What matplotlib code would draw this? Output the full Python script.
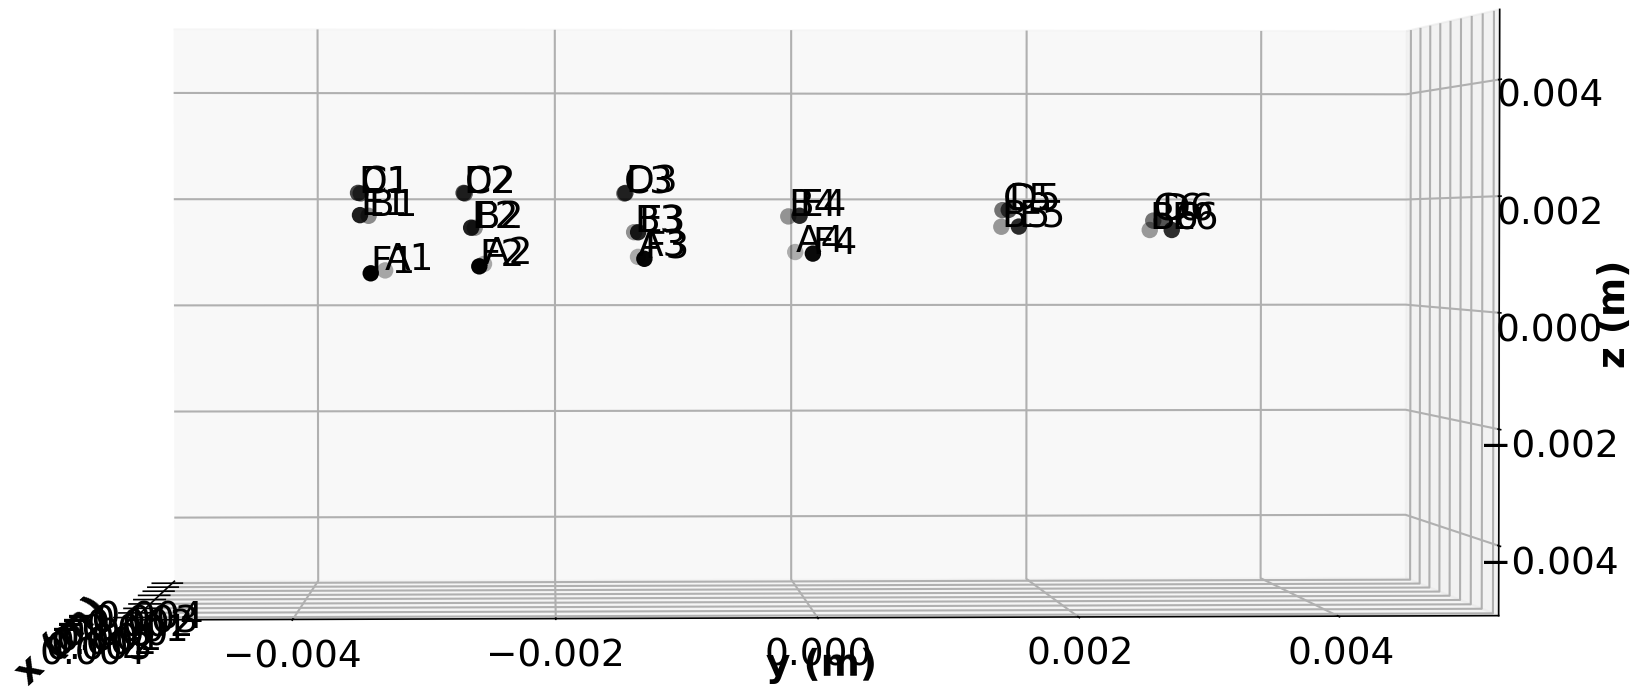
import matplotlib
matplotlib.use("Agg")
import matplotlib.pyplot as plt

plt.rcParams["grid.linewidth"] = 1.0

labels = ["A1", "A2", "A3", "A4",
          "B1", "B2", "B3", "B4", "B5", "B6",
          "C1", "C2", "C3", "C5", "C6",
          "D1", "D2", "D3", "D5", "D6",
          "E1", "E2", "E3", "E4", "E5", "E6",
          "F1", "F2", "F3", "F4"]
x = [-0.003, -0.003, -0.003, -0.003,
     -0.002, -0.002, -0.002, -0.002, -0.002, -0.002,
     -0.0006, -0.0006, -0.0006, -0.0006, -0.0006,
     0.0006, 0.0006, 0.0006, 0.0006, 0.0006,
     0.002, 0.002, 0.002, 0.002, 0.002, 0.002,
     0.003, 0.003, 0.003, 0.003]
y = [-0.00341, -0.00259, -0.00131, 0.0,
     -0.00353, -0.00266, -0.00135, -0.00008, 0.00168, 0.00291,
     -0.00357, -0.00273, -0.00144, 0.00163, 0.00286,
     -0.00357, -0.00273, -0.00144, 0.00163, 0.00286,
     -0.00353, -0.00266, -0.00135, -0.00008, 0.00165, 0.00286,
     -0.00343, -0.00259, -0.00131, 0.0]
z = [0.00067, 0.00079, 0.00092, 0.00101,
     0.00168, 0.00146, 0.00138, 0.00167, 0.00148, 0.00142,
     0.00208, 0.00208, 0.00208, 0.00178, 0.00159,
     0.00208, 0.00208, 0.00208, 0.00178, 0.00159,
     0.00168, 0.00146, 0.00138, 0.00167, 0.00148, 0.00142,
     0.00067, 0.00079, 0.00092, 0.00101]

x_ticks = [-0.004, -0.003, -0.002, -0.001, 0.0, 0.001, 0.002, 0.003, 0.004]
yz_ticks = [-0.004, -0.002, 0.0, 0.002, 0.004]

fig = plt.figure(figsize=(1633 / 150, 688 / 150), dpi=150)
ax = fig.add_axes([270 / 1633, -156.5 / 688, 1043 / 1633, 1043 / 688], projection="3d")

ax.scatter(x, y, z, c="k", s=62, linewidths=0, edgecolors="none")
for name, px, py, pz in zip(labels, x, y, z):
    ax.text(px, py, pz, name, fontsize=18)

ax.set_xlim(-0.0045, 0.0045)
ax.set_ylim(-0.00521, 0.00524)
ax.set_zlim(-0.0052, 0.0052)
ax.set_xticks(x_ticks)
ax.set_yticks(yz_ticks)
ax.set_zticks(yz_ticks)
ax.tick_params(axis="x", labelsize=18, pad=0)
ax.tick_params(axis="y", labelsize=18, pad=0)
ax.tick_params(axis="z", labelsize=18, pad=1)

ax.set_xlabel("x (m)", fontsize=18, fontweight="bold", labelpad=-2.5)
ax.set_ylabel("y (m)", fontsize=18, fontweight="bold", labelpad=-2)
ax.set_zlabel("z (m)", fontsize=18, fontweight="bold", labelpad=-0.4)

ax.set_box_aspect((1, 2.2106, 0.985), zoom=1.43)
ax.view_init(elev=0.8, azim=-2.6)

fig.savefig("out.png", dpi=150)
